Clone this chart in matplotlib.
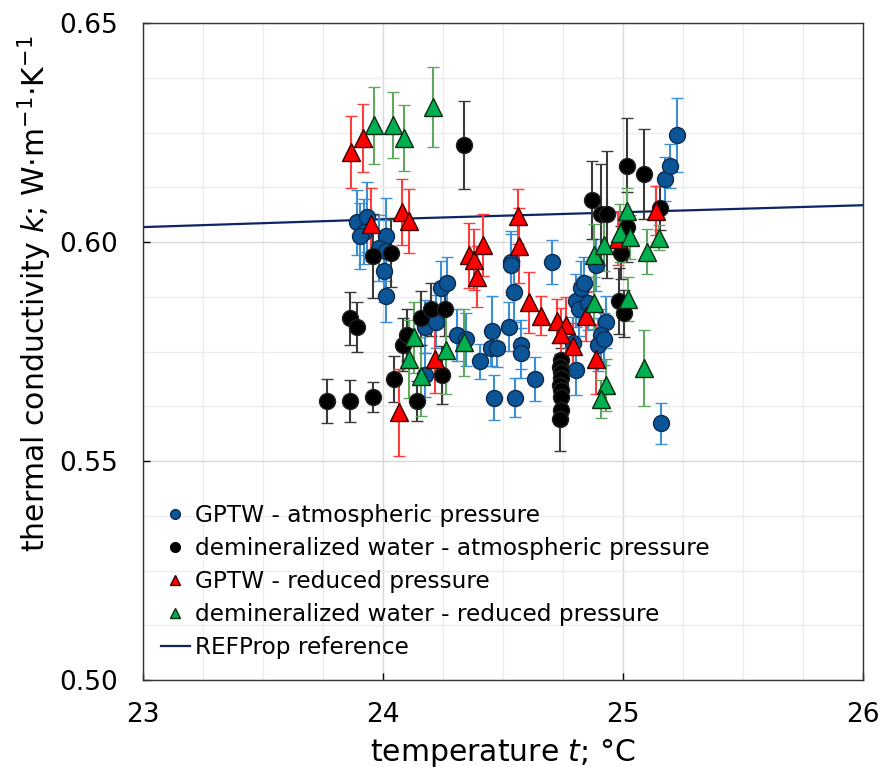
import matplotlib
matplotlib.use("Agg")
import matplotlib.pyplot as plt
from matplotlib.lines import Line2D
from matplotlib.ticker import MultipleLocator, FormatStrFormatter

# GPTW - atmospheric pressure
gptw_atm_t = [23.895, 23.933, 23.923, 23.905, 24.013, 23.984, 24.013, 24.006,
              24.013, 24.176, 24.224, 24.245, 24.266, 24.308, 24.346, 24.404,
              24.456, 24.450, 24.478, 24.464, 24.526, 24.536, 24.534, 24.547,
              24.578, 24.578, 24.550, 24.636, 24.705, 24.793, 24.804, 24.804,
              24.818, 24.825, 24.839, 24.854, 24.890, 24.929, 24.911, 24.897,
              24.920, 25.177, 25.198, 25.227, 25.158, 24.176]
gptw_atm_k = [0.6045, 0.6058, 0.6024, 0.6014, 0.6014, 0.5986, 0.5980, 0.5934,
              0.5877, 0.5807, 0.5818, 0.5896, 0.5906, 0.5788, 0.5778, 0.5728,
              0.5797, 0.5759, 0.5757, 0.5645, 0.5807, 0.5955, 0.5948, 0.5887,
              0.5766, 0.5746, 0.5645, 0.5687, 0.5955, 0.5769, 0.5708, 0.5866,
              0.5846, 0.5896, 0.5906, 0.5860, 0.5948, 0.5817, 0.5788, 0.5766,
              0.5779, 0.6144, 0.6174, 0.6244, 0.5586, 0.5696]
gptw_atm_err = [0.0074, 0.0080, 0.0075, 0.0075, 0.0087, 0.0076, 0.0070, 0.0070,
                0.0060, 0.0060, 0.0060, 0.0060, 0.0060, 0.0060, 0.0060, 0.0040,
                0.0079, 0.0042, 0.0042, 0.0051, 0.0055, 0.0070, 0.0070, 0.0070,
                0.0057, 0.0057, 0.0045, 0.0051, 0.0050, 0.0060, 0.0057, 0.0060,
                0.0060, 0.0060, 0.0060, 0.0060, 0.0060, 0.0059, 0.0060, 0.0060,
                0.0060, 0.0050, 0.0050, 0.0084, 0.0047, 0.0050]

# demineralized water - atmospheric pressure
demi_atm_t = [24.338, 23.958, 24.034, 23.864, 23.894, 23.767, 23.866, 23.958,
              24.048, 24.145, 24.249, 24.083, 24.102, 24.158, 24.203, 24.259,
              24.742, 24.740, 24.744, 24.741, 24.739, 24.743, 24.741, 24.742,
              24.740, 24.984, 25.004, 24.994, 25.018, 25.087, 24.873, 24.911,
              24.934, 25.154, 25.018]
demi_atm_k = [0.6221, 0.5968, 0.5976, 0.5826, 0.5807, 0.5637, 0.5637, 0.5647,
              0.5687, 0.5637, 0.5696, 0.5766, 0.5788, 0.5826, 0.5846, 0.5846,
              0.5731, 0.5715, 0.5704, 0.5689, 0.5673, 0.5662, 0.5647, 0.5616,
              0.5597, 0.5866, 0.5837, 0.5976, 0.6174, 0.6155, 0.6096, 0.6063,
              0.6063, 0.6077, 0.6035]
demi_atm_err = [0.0101, 0.0095, 0.0078, 0.0060, 0.0057, 0.0050, 0.0047, 0.0034,
                0.0053, 0.0046, 0.0066, 0.0060, 0.0060, 0.0062, 0.0060, 0.0060,
                0.0027, 0.0030, 0.0030, 0.0030, 0.0030, 0.0030, 0.0030, 0.0032,
                0.0075, 0.0075, 0.0053, 0.0060, 0.0110, 0.0103, 0.0090, 0.0115,
                0.0145, 0.0050, 0.0080]

# GPTW - reduced pressure
gptw_red_t = [23.868, 23.919, 23.950, 24.081, 24.109, 24.069, 24.220, 24.359,
              24.380, 24.416, 24.391, 24.562, 24.567, 24.610, 24.658, 24.728,
              24.762, 24.741, 24.793, 24.848, 24.890, 24.980, 25.140]
gptw_red_k = [0.6206, 0.6237, 0.6040, 0.6069, 0.6048, 0.5611, 0.5733, 0.5970,
              0.5960, 0.5993, 0.5921, 0.6059, 0.5992, 0.5862, 0.5832, 0.5820,
              0.5810, 0.5789, 0.5763, 0.5831, 0.5732, 0.6008, 0.6071]
gptw_red_err = [0.0082, 0.0078, 0.0084, 0.0076, 0.0074, 0.0100, 0.0078, 0.0074,
                0.0070, 0.0070, 0.0070, 0.0063, 0.0086, 0.0070, 0.0044, 0.0051,
                0.0065, 0.0060, 0.0051, 0.0056, 0.0080, 0.0060, 0.0056]

# demineralized water - reduced pressure
demi_red_t = [23.964, 24.041, 24.089, 24.208, 24.109, 24.158, 24.262, 24.130,
              24.339, 24.879, 24.879, 24.932, 24.911, 25.022, 25.087, 24.990,
              25.029, 24.920, 25.099, 25.019, 25.149]
demi_red_k = [0.6267, 0.6267, 0.6237, 0.6309, 0.5733, 0.5693, 0.5753, 0.5782,
              0.5771, 0.5861, 0.5970, 0.5674, 0.5642, 0.5870, 0.5712, 0.6020,
              0.6011, 0.5993, 0.5978, 0.6071, 0.6010]
demi_red_err = [0.0088, 0.0076, 0.0076, 0.0091, 0.0090, 0.0090, 0.0099, 0.0082,
                0.0076, 0.0060, 0.0070, 0.0060, 0.0043, 0.0051, 0.0086, 0.0066,
                0.0050, 0.0060, 0.0051, 0.0052, 0.0028]

# REFProp reference line
ref_t = [23.0, 23.5, 24.0, 24.5, 25.0, 25.5, 26.0]
ref_k = [0.6034, 0.6043, 0.6052, 0.6060, 0.6068, 0.6076, 0.6084]

labels = ["GPTW - atmospheric pressure",
          "demineralized water - atmospheric pressure",
          "GPTW - reduced pressure",
          "demineralized water - reduced pressure",
          "REFProp reference"]


def draw_series(ax, t, k, err, marker, face, edge, bar_color, size):
    """Draw one measurement series with its error bars."""
    ax.errorbar(t, k, yerr=err, fmt=marker, ms=size, mfc=face, mec=edge,
                mew=1.0, ecolor=bar_color, elinewidth=1.5, capsize=4,
                capthick=1.5, zorder=3)


def main():
    plt.rcParams['font.family'] = ['DejaVu Sans']
    plt.rcParams['mathtext.fontset'] = 'dejavusans'

    fig = plt.figure(figsize=(8.83, 7.67), dpi=100)
    ax = fig.add_axes([0.1614, 0.1134, 0.8159, 0.8566])

    ax.plot(ref_t, ref_k, color="#0d2565", lw=1.6, zorder=2)

    draw_series(ax, gptw_atm_t, gptw_atm_k, gptw_atm_err, 'o',
                "#0b5597", "#0a2a50", "#3a8fd8", 11.5)
    draw_series(ax, demi_atm_t, demi_atm_k, demi_atm_err, 'o',
                "black", "#222222", "#3a3a3a", 11.5)
    draw_series(ax, gptw_red_t, gptw_red_k, gptw_red_err, '^',
                "#ff0000", "#3a0000", "#ff3b3b", 12.5)
    draw_series(ax, demi_red_t, demi_red_k, demi_red_err, '^',
                "#00b050", "#0c2a12", "#5ea95e", 12.5)

    ax.set_xlim(23, 26)
    ax.set_ylim(0.50, 0.65)
    ax.xaxis.set_major_locator(MultipleLocator(1))
    ax.xaxis.set_minor_locator(MultipleLocator(0.25))
    ax.yaxis.set_major_locator(MultipleLocator(0.05))
    ax.yaxis.set_minor_locator(MultipleLocator(0.0125))
    ax.yaxis.set_major_formatter(FormatStrFormatter('%.2f'))
    ax.grid(which='major', color="#d8d8d8", lw=1.0, zorder=0)
    ax.grid(which='minor', color="#ececec", lw=1.0, zorder=0)
    ax.set_axisbelow(True)
    ax.tick_params(which='major', direction='in', length=5, width=1,
                   labelsize=19)
    ax.tick_params(axis='y', pad=18)
    ax.tick_params(axis='x', pad=16)
    ax.tick_params(which='minor', length=0)
    for side in ax.spines.values():
        side.set_color("#333333")
        side.set_linewidth(1.0)

    ax.set_xlabel(r"temperature $t$; °C", fontsize=21.5, labelpad=6)
    ax.set_ylabel(r"thermal conductivity $k$; W·m$^{-1}$·K$^{-1}$",
                  fontsize=21.5)
    ax.yaxis.set_label_coords(-0.123, 0.5875)

    # legend with small markers and no error bars
    handles = [
        Line2D([], [], ls='none', marker='o', ms=7, mfc="#0b5597", mec="#0a2a50"),
        Line2D([], [], ls='none', marker='o', ms=7, mfc="black", mec="black"),
        Line2D([], [], ls='none', marker='^', ms=7, mfc="#ff0000", mec="#3a0000"),
        Line2D([], [], ls='none', marker='^', ms=7, mfc="#00b050", mec="#0c2a12"),
        Line2D([], [], color="#0d2565", lw=1.6),
    ]
    ax.legend(handles, labels, loc='lower left', bbox_to_anchor=(-0.004, 0.0),
              frameon=False, fontsize=16.75, handlelength=1.25,
              handletextpad=0.25, labelspacing=0.43, borderaxespad=0.5)

    fig.savefig("out.png", dpi=100)


if __name__ == "__main__":
    main()
